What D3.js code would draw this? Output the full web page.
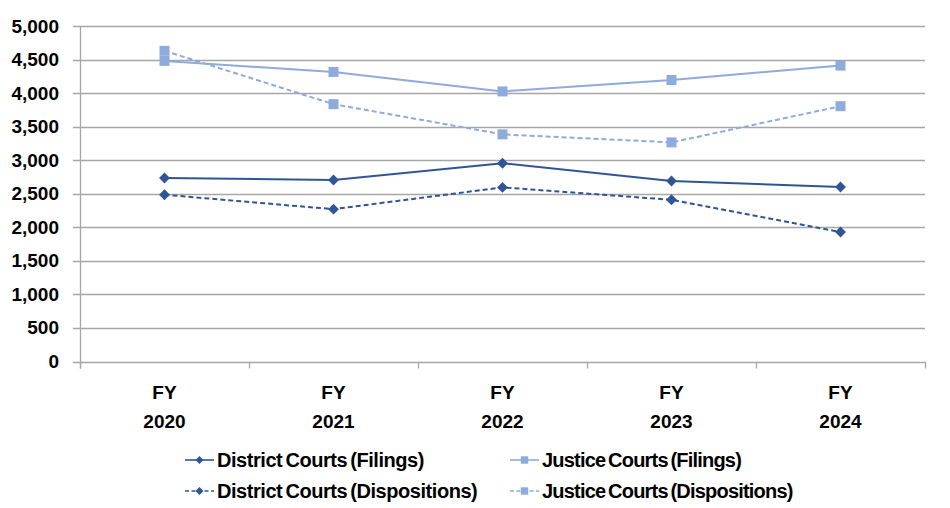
<!DOCTYPE html>
<html><head><meta charset="utf-8">
<script src="https://cdn.jsdelivr.net/npm/d3@7"></script>
<style>body{margin:0;background:#fff}svg{display:block}text{font-family:"Liberation Sans",Arial,sans-serif;font-weight:bold;fill:#000}</style>
</head><body><svg id="c" width="950" height="508"></svg>
<script>
const categories = ["FY 2020","FY 2021","FY 2022","FY 2023","FY 2024"];
const districtFilings = [2735, 2705, 2955, 2690, 2600];
const districtDispositions = [2485, 2270, 2595, 2410, 1930];
const justiceFilings = [4480, 4315, 4025, 4195, 4410];
const justiceDispositions = [4630, 3835, 3385, 3265, 3805];
const yTicks = [0,500,1000,1500,2000,2500,3000,3500,4000,4500,5000];
const seriesNames = ["District Courts (Filings)","Justice Courts (Filings)","District Courts (Dispositions)","Justice Courts (Dispositions)"];

const dark = "#2F5597", light = "#8FAADC";
const series = [
  {name: seriesNames[0], values: districtFilings, color: dark, dash: null, marker: "diamond"},
  {name: seriesNames[1], values: justiceFilings, color: light, dash: null, marker: "square"},
  {name: seriesNames[2], values: districtDispositions, color: dark, dash: "5,3", marker: "diamond"},
  {name: seriesNames[3], values: justiceDispositions, color: light, dash: "5,3", marker: "square"}
];

const svg = d3.select("#c");
const L = 80, R = 925, T = 26, B = 361.5;
const x = d3.scaleBand().domain(categories).range([L, R]);
const y = d3.scaleLinear().domain([0, 5000]).range([B, T]);

// gridlines
svg.append("g").selectAll("line").data(yTicks).join("line")
  .attr("x1", L - 7).attr("x2", R)
  .attr("y1", d => Math.round(y(d)) + 0.5).attr("y2", d => Math.round(y(d)) + 0.5)
  .attr("stroke", "#a6a6a6").attr("stroke-width", 1.3);
// y axis line
svg.append("line").attr("x1", L + 0.5).attr("x2", L + 0.5).attr("y1", T).attr("y2", B + 7)
  .attr("stroke", "#a6a6a6").attr("stroke-width", 1.3);
// category tick marks
const bounds = categories.map((c) => x(c) + x.bandwidth()).concat([L]);
svg.append("g").selectAll("line").data(bounds).join("line")
  .attr("x1", d => Math.round(d) + 0.5).attr("x2", d => Math.round(d) + 0.5)
  .attr("y1", Math.round(B)).attr("y2", B + 7)
  .attr("stroke", "#a6a6a6").attr("stroke-width", 1.3);

// y labels
svg.append("g").selectAll("text").data(yTicks).join("text")
  .attr("x", 59).attr("y", d => y(d) + 6.5)
  .attr("text-anchor", "end").attr("font-size", 19)
  .text(d => d3.format(",")(d));

// x labels
const xl = svg.append("g").selectAll("text").data(categories).join("text")
  .attr("text-anchor", "middle").attr("font-size", 19);
xl.append("tspan").attr("x", d => x(d) + x.bandwidth()/2).attr("y", 398.5).text(d => d.split(" ")[0]);
xl.append("tspan").attr("x", d => x(d) + x.bandwidth()/2).attr("y", 427.5).text(d => d.split(" ")[1]);

const cx = (i) => x(categories[i]) + x.bandwidth()/2;
const line = d3.line().x((d, i) => cx(i)).y(d => y(d));

function drawMarker(g, type, color, px, py, scale) {
  const p = (type === "diamond" ? d3.symbol().type(d3.symbolDiamond2).size(75*scale) : d3.symbol().type(d3.symbolSquare).size(100*scale))();
  g.append("path").attr("d", p).attr("transform", `translate(${px},${py})`).attr("fill", color);
}

const order = [1, 3, 0, 2];
order.forEach(k => {
  const s = series[k];
  const g = svg.append("g");
  g.append("path").attr("d", line(s.values)).attr("fill", "none")
    .attr("stroke", s.color).attr("stroke-width", 2)
    .attr("stroke-dasharray", s.dash);
  s.values.forEach((v, i) => drawMarker(g, s.marker, s.color, cx(i), y(v), 1));
});

// legend
const legPos = [[185, 460], [510, 460], [185, 491], [510, 491]];
const legSpacing = [-0.45, -0.8, -0.45, -0.8];
series.forEach((s, k) => {
  const [lx, ly] = legPos[k];
  const g = svg.append("g");
  g.append("line").attr("x1", lx).attr("x2", lx + 29).attr("y1", ly).attr("y2", ly)
    .attr("stroke", s.color).attr("stroke-width", 1.6).attr("stroke-dasharray", s.dash ? "4,2.5" : null);
  drawMarker(g, s.marker, s.color, lx + 14.5, ly, 0.55);
  g.append("text").attr("x", lx + 32).attr("y", ly + 7).attr("font-size", 20)
    .attr("letter-spacing", legSpacing[k]).attr("word-spacing", -2).text(s.name);
});
</script></body></html>
